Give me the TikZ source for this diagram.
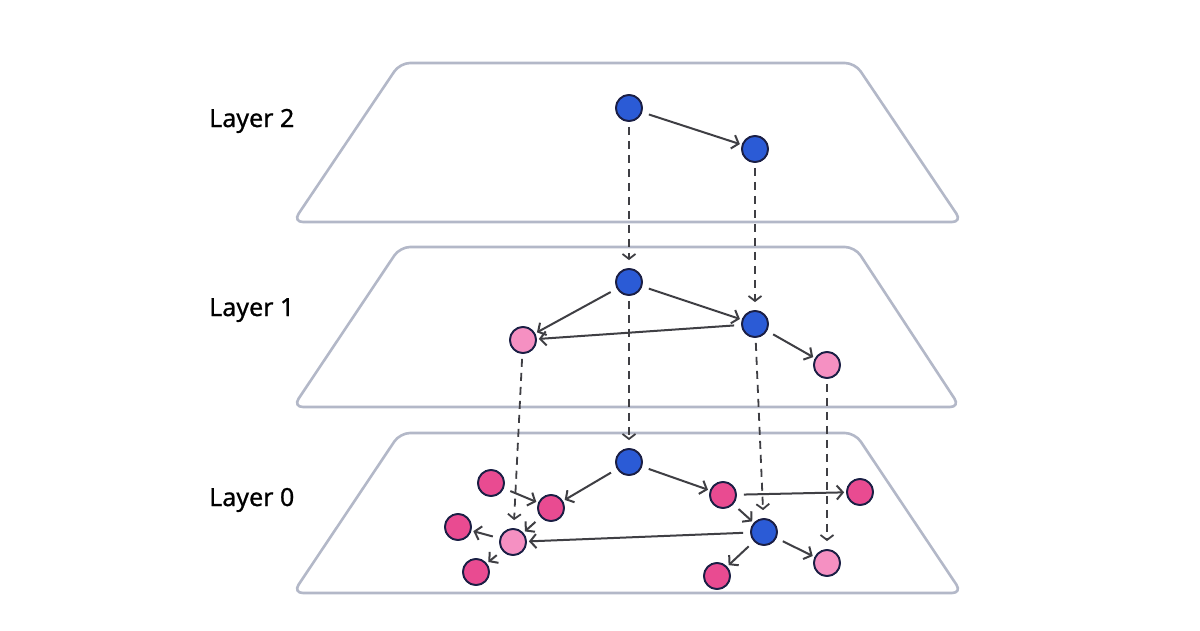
\documentclass[tikz,border=0pt]{standalone}
\usepackage{fontspec}
\setmainfont{Noto Sans}
\newfontfamily\labfont[FakeBold=0.8]{Noto Sans}
\usetikzlibrary{arrows.meta}
\definecolor{nblue}{HTML}{2B5BD6}
\definecolor{nmag}{HTML}{E94B91}
\definecolor{npink}{HTML}{F590C2}
\definecolor{nborder}{HTML}{1B1F45}
\definecolor{plane}{HTML}{B3B8C8}
\definecolor{edgec}{HTML}{3F3F44}
\tikzset{
  planeshape/.style={draw=plane, line width=2.6pt, fill=white, rounded corners=10pt},
  dot/.style={circle, draw=nborder, line width=1.8pt, minimum size=26pt, inner sep=0pt},
  bdot/.style={dot, fill=nblue},
  mdot/.style={dot, fill=nmag},
  pdot/.style={dot, fill=npink},
  edge/.style={draw=edgec, line width=2pt, -{Straight Barb[length=6pt,width=14pt]}, shorten <=7pt, shorten >=2pt},
  dedge/.style={draw=edgec, line width=1.8pt, dash pattern=on 8pt off 6pt, -{Straight Barb[length=5pt,width=13pt]}, shorten <=5pt, shorten >=8pt},
  lab/.style={font=\labfont\fontsize{25}{30}\selectfont, anchor=base west, inner sep=0pt}
}
\begin{document}
\begin{tikzpicture}[x=1pt,y=-1pt]
\useasboundingbox (0,0) rectangle (1200,630);
% planes
\draw[planeshape] (400,63) -- (855,63) -- (962,222) -- (293,222) -- cycle;
\draw[planeshape] (400,247) -- (855,247) -- (960,407) -- (293,407) -- cycle;
\draw[planeshape] (400,433) -- (855,433) -- (962,593) -- (293,593) -- cycle;
% labels
\node[lab] (l2) at (209,127) {Layer 2};
\node[lab] (l1) at (209,316) {Layer 1};
\node[lab] (l0) at (209,506) {Layer 0};
% layer 2
\node[bdot] (a2) at (629,108) {};
\node[bdot] (b2) at (755,149) {};
% layer 1
\node[bdot] (a1) at (629,282) {};
\node[bdot] (b1) at (755,324) {};
\node[pdot] (p1) at (523,340) {};
\node[pdot] (q1) at (827,365) {};
% layer 0
\node[bdot] (a0) at (629,462) {};
\node[bdot] (b0) at (764,532) {};
\node[mdot] (c0) at (723,495) {};
\node[mdot] (d0) at (860,492) {};
\node[pdot] (e0) at (827,563) {};
\node[mdot] (f0) at (717,576) {};
\node[mdot] (g0) at (551,508) {};
\node[pdot] (h0) at (513,542) {};
\node[mdot] (i0) at (491,483) {};
\node[mdot] (j0) at (458,527) {};
\node[mdot] (k0) at (476,572) {};
% dashed inter-layer links
\draw[dedge] (a2) -- (a1);
\draw[dedge] (b2) -- (b1);
\draw[dedge] (a1) -- (a0);
\draw[dedge] (b1) -- (b0);
\draw[dedge] (p1) -- (h0);
\draw[dedge] (q1) -- (e0);
% layer 2 edges
\draw[edge] (a2) -- (b2);
% layer 1 edges
\draw[edge] (a1) -- (p1);
\draw[edge] (a1) -- (b1);
\draw[edge] (b1) -- (p1);
\draw[edge] (b1) -- (q1);
% layer 0 edges
\draw[edge] (a0) -- (g0);
\draw[edge] (a0) -- (c0);
\draw[edge] (i0) -- (g0);
\draw[edge] (g0) -- (h0);
\draw[edge] (h0) -- (j0);
\draw[edge] (h0) -- (k0);
\draw[edge] (b0) -- (h0);
\draw[edge] (c0) -- (d0);
\draw[edge] (c0) -- (b0);
\draw[edge] (b0) -- (f0);
\draw[edge] (b0) -- (e0);
% redraw nodes on top
\foreach \n in {a2,b2,a1,b1,a0,b0}{\node[bdot] at (\n) {};}
\foreach \n in {c0,d0,f0,g0,i0,j0,k0}{\node[mdot] at (\n) {};}
\foreach \n in {p1,q1,e0,h0}{\node[pdot] at (\n) {};}
\end{tikzpicture}
\end{document}
